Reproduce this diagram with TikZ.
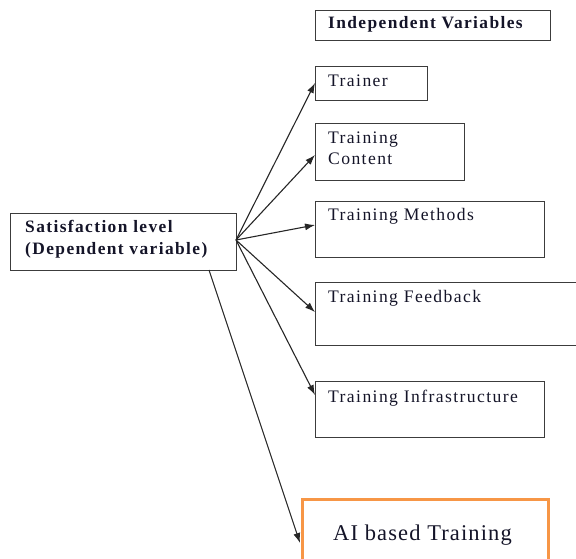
\documentclass[tikz,border=0pt]{standalone}
\usepackage{fontspec}
\setmainfont{Liberation Serif}
\newfontfamily\wideserif[LetterSpace=8]{Liberation Serif}
\newfontfamily\widebold[LetterSpace=8]{Liberation Serif Bold}
\newfontfamily\aiserif[LetterSpace=5]{Liberation Serif}
\usetikzlibrary{arrows.meta}
\definecolor{boxline}{RGB}{60,60,60}
\definecolor{aiorange}{RGB}{247,150,70}
\definecolor{inktext}{RGB}{20,20,40}
\tikzset{
  varbox/.style={draw=boxline, line width=1.3pt, anchor=north west, inner sep=0pt, minimum width=#1},
  lbl/.style={anchor=base west, inner sep=0pt, text=inktext, font=\wideserif\fontsize{17.6}{19}\selectfont},
  boldlbl/.style={anchor=base west, inner sep=0pt, text=inktext, font=\widebold\fontsize{17.4}{19}\selectfont},
  link/.style={draw=black!85, line width=1.1pt, -{Latex[length=10pt,width=7pt]}}
}
\begin{document}
\begin{tikzpicture}[x=1pt,y=-1pt]
\useasboundingbox (0,0) rectangle (576,559);
\begin{scope}
\clip (0,0) rectangle (576,559);
% boxes
\node[varbox=235pt, minimum height=30pt] (indep) at (315,10) {};
\node[varbox=226pt, minimum height=57pt] (sat) at (10,213) {};
\node[varbox=112pt, minimum height=34pt] (trainer) at (315,66) {};
\node[varbox=149pt, minimum height=57pt] (content) at (315,123) {};
\node[varbox=229pt, minimum height=56pt] (methods) at (315,201) {};
\node[varbox=265pt, minimum height=63pt] (feedback) at (315,282) {};
\node[varbox=229pt, minimum height=56pt] (infra) at (315,381) {};
\node[draw=aiorange, line width=3pt, anchor=north west, inner sep=0pt, minimum width=246pt, minimum height=80pt] (ai) at (301,498) {};
\end{scope}
% labels
\node[boldlbl] (tindep) at (328,29) {Independent Variables};
\node[boldlbl] (tsat1) at (25,233) {Satisfaction level};
\node[boldlbl] (tsat2) at (25,254) {(Dependent variable)};
\node[lbl] (ttrainer) at (328,87) {Trainer};
\node[lbl] (tcontent1) at (328,144) {Training};
\node[lbl] (tcontent2) at (328,165) {Content};
\node[lbl] (tmethods) at (328,221) {Training Methods};
\node[lbl] (tfeedback) at (328,302) {Training Feedback};
\node[lbl] (tinfra) at (328,402) {Training Infrastructure};
\node[anchor=base west, inner sep=0pt, text=inktext, font=\aiserif\fontsize{22.5}{24}\selectfont] (tai) at (333,540) {AI based Training};
% connectors
\coordinate (hub) at (236,240);
\coordinate (foot) at (209,270);
\draw[link] (hub) -- ([yshift=-17pt]trainer.north west);
\draw[link] (hub) -- ([yshift=-32pt]content.north west);
\draw[link] (hub) -- ([yshift=-24pt]methods.north west);
\draw[link] (hub) -- ([yshift=-30pt]feedback.north west);
\draw[link] (hub) -- ([yshift=-14pt]infra.north west);
\draw[link] (foot) -- ([yshift=-45pt,xshift=-1pt]ai.north west);
\end{tikzpicture}
\end{document}
